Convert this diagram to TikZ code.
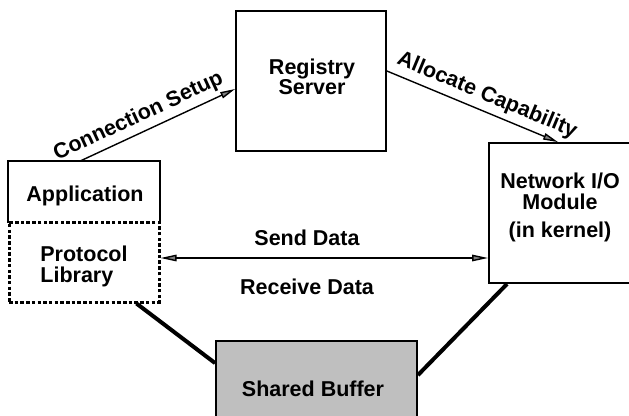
\documentclass[tikz,border=0pt]{standalone}
\usepackage{fontspec}
\setmainfont{Liberation Sans}
\usetikzlibrary{arrows.meta,calc}
\tikzset{
  lbl/.style={font=\fontsize{21.5}{21}\selectfont\bfseries, inner sep=0pt, align=center},
  boxshape/.style={rectangle, inner sep=0pt, line width=1.8pt},
  tip/.style={Triangle[length=15pt,width=6.5pt,fill=gray]},
  flow/.style={line width=1.4pt, -{Triangle[length=15pt,width=6.5pt,fill=gray]}},
  dflow/.style={line width=1.4pt, {Triangle[length=16pt,width=6.5pt,fill=gray]}-{Triangle[length=16pt,width=6.5pt,fill=gray]}},
  link/.style={line width=4pt}
}
\begin{document}
\begin{tikzpicture}[x=1pt,y=-1pt]
\useasboundingbox (0,0) rectangle (629,415);
\clip (0,0) rectangle (629,415);

% boxes
\node[boxshape, minimum width=150pt, minimum height=60pt] (app) at (84,192) {};
\node[boxshape, draw, dash pattern=on 3.5pt off 2.2pt, line width=3pt, minimum width=150pt, minimum height=80pt] (lib) at (84,262) {};
\draw[line width=1.8pt] (app.south west) -- (app.north west) -- (app.north east) -- (app.south east);
\node[lbl] (apptext) at (85,196) {Application};
\node[lbl, align=left] (libtext) at (84,266) {Protocol\\Library};

\node[boxshape, draw, minimum width=150pt, minimum height=140pt] (reg) at (311,81) {};
\node[lbl, font=\fontsize{21.5}{20}\selectfont\bfseries] (regtext) at (312,77) {Registry\\Server};

\node[boxshape, draw, minimum width=150pt, minimum height=140pt] (net) at (564,213) {};
\node[lbl, align=center] (nettext) at (560,207) {Network I/O\\Module\\[7pt](in kernel)};

\node[boxshape, draw, fill=black!25, minimum width=201pt, minimum height=92pt] (buf) at (316.5,387) {};
\node[lbl] (buftext) at (313,389) {Shared Buffer};

% control connections
\draw[flow] ([xshift=-4pt]app.north) -- node[lbl, sloped, above=5pt, pos=0.42] {Connection Setup} ([yshift=-8pt]reg.west);
\draw[flow] ([yshift=10pt]reg.east) -- node[lbl, sloped, above=5pt, pos=0.55] {Allocate Capability} ([xshift=-6pt]net.north);

% data path
\coordinate (sd) at ([yshift=4pt]lib.east);
\draw[dflow] (sd) -- (sd -| net.west);
\node[lbl] (send) at (307,238) {Send Data};
\node[lbl] (recv) at (307,287) {Receive Data};

% shared buffer links
\draw[link] ([xshift=-24pt]lib.south east) -- ([yshift=-23pt]buf.north west);
\draw[link] ([xshift=19pt]net.south west) -- ([yshift=-35pt]buf.north east);
\end{tikzpicture}
\end{document}
